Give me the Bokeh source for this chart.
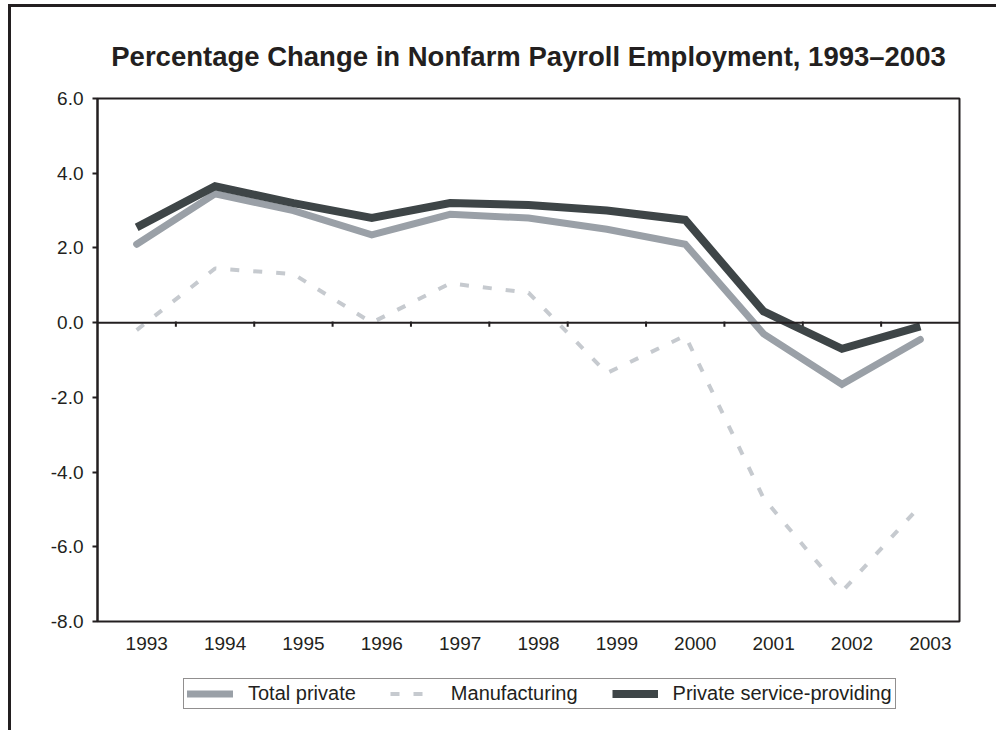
from bokeh.plotting import figure
from bokeh.layouts import column
from bokeh.models import (Range1d, LinearAxis, FixedTicker, NumeralTickFormatter,
                          Legend, LegendItem, Span)
from bokeh.embed import file_html
from bokeh.resources import INLINE

years = [1993, 1994, 1995, 1996, 1997, 1998, 1999, 2000, 2001, 2002, 2003]
total_private = [2.1, 3.45, 3.0, 2.35, 2.9, 2.8, 2.5, 2.1, -0.3, -1.65, -0.45]
manufacturing = [-0.2, 1.45, 1.3, 0.0, 1.05, 0.8, -1.35, -0.35, -4.7, -7.2, -4.9]
service_providing = [2.55, 3.65, 3.2, 2.8, 3.2, 3.15, 3.0, 2.75, 0.3, -0.7, -0.1]
series_names = ["Total private", "Manufacturing", "Private service-providing"]
y_ticks = [-8, -6, -4, -2, 0, 2, 4, 6]
title_text = "Percentage Change in Nonfarm Payroll Employment, 1993\u20132003"

FONT = "Liberation Sans"
INK = "#231f20"
STYLES = [dict(line_color="#9aa0a7", line_width=7, line_cap="round", line_join="miter"),
          dict(line_color="#c6cacf", line_width=4, line_dash="9 14"),
          dict(line_color="#3e4547", line_width=8, line_join="miter")]
SERIES = [total_private, manufacturing, service_providing]

p = figure(width=985, height=663, output_backend="svg", toolbar_location=None,
           x_range=Range1d(years[0] - 0.5, years[-1] + 0.5),
           y_range=Range1d(-8, 6),
           x_axis_type=None, y_axis_type=None,
           min_border_left=86, min_border_right=37, min_border_top=91,
           min_border_bottom=49)
p.background_fill_color = "white"
p.border_fill_color = "white"
p.outline_line_color = INK
p.outline_line_width = 2
p.xgrid.visible = False
p.ygrid.visible = False

p.title.text = title_text
p.title.text_font = FONT
p.title.text_font_size = "27.5px"
p.title.text_font_style = "bold"
p.title.text_color = INK
p.title.align = "center"
p.title.text_line_height = 0.8
p.title.standoff = 54

# y axis
yax = LinearAxis(ticker=FixedTicker(ticks=y_ticks),
                 formatter=NumeralTickFormatter(format="0.0"))
yax.axis_line_color = INK
yax.axis_line_width = 2
yax.major_tick_line_color = INK
yax.major_tick_line_width = 2
yax.major_tick_out = 5
yax.major_tick_in = 0
yax.minor_tick_line_color = None
yax.major_label_text_font = FONT
yax.major_label_text_font_size = "19px"
yax.major_label_text_color = INK
yax.major_label_standoff = 9
p.add_layout(yax, "left")

# year labels at bottom (set slightly right of the category centre, as in the source)
lax = LinearAxis(ticker=FixedTicker(ticks=[y + 0.128 for y in years]),
                 formatter=NumeralTickFormatter(format="0"))
lax.axis_line_color = None
lax.major_tick_line_color = None
lax.minor_tick_line_color = None
lax.major_label_text_font = FONT
lax.major_label_text_font_size = "19px"
lax.major_label_text_color = INK
lax.major_label_standoff = 9
p.add_layout(lax, "below")

# zero line with category-boundary ticks
p.add_layout(Span(location=0, dimension="width", line_color=INK, line_width=2))
bounds = [y + 0.5 for y in years[:-1]]
p.segment(x0=bounds, y0=[-0.11] * len(bounds), x1=bounds, y1=[0.03] * len(bounds),
          line_color=INK, line_width=2)

for vals, st in zip(SERIES, STYLES):
    p.line(years, vals, **st)

# legend strip below the chart (same series, kept out of view so only the key shows)
lg = figure(width=985, height=60, output_backend="svg", toolbar_location=None,
            x_range=Range1d(0, 1), y_range=Range1d(0, 1),
            x_axis_location=None, y_axis_location=None,
            min_border_left=0, min_border_right=0, min_border_top=0,
            min_border_bottom=0)
lg.outline_line_color = None
lg.xgrid.visible = False
lg.ygrid.visible = False
items = []
for name, vals, st in zip(series_names, SERIES, STYLES):
    r = lg.line(years, vals, **st)
    items.append(LegendItem(label=name, renderers=[r]))

legend = Legend(items=items, orientation="horizontal", location=(86, 21))
legend.label_text_font = FONT
legend.label_text_font_size = "20px"
legend.label_text_color = INK
legend.border_line_color = INK
legend.border_line_width = 1
legend.padding = 3
legend.margin = 0
legend.spacing = 34
legend.glyph_width = 46
legend.glyph_height = 17
legend.label_standoff = 15
legend.background_fill_color = "white"
legend.background_fill_alpha = 1
lg.add_layout(legend, "center")

layout = column(p, lg, spacing=0,
                styles={"border-top": "3px solid #231f20",
                        "border-left": "3px solid #231f20",
                        "margin-left": "8px", "margin-top": "4px"})

open("out.html", "w").write(file_html(layout, INLINE))
